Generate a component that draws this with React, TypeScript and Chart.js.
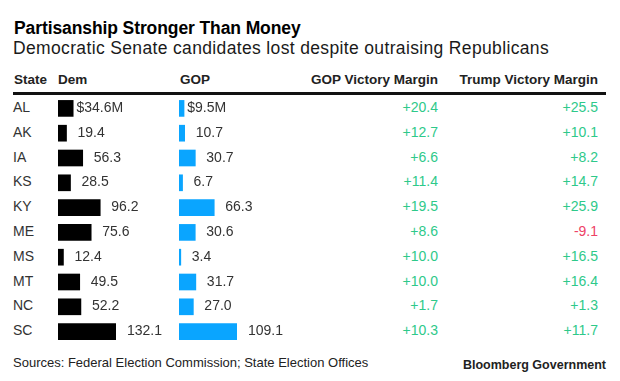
import React, { useEffect, useRef } from "react";
import { Chart, registerables } from "chart.js";

Chart.register(...registerables);

const states = ["AL", "AK", "IA", "KS", "KY", "ME", "MS", "MT", "NC", "SC"];
const demRaised = [34.6, 19.4, 56.3, 28.5, 96.2, 75.6, 12.4, 49.5, 52.2, 132.1];
const gopRaised = [9.5, 10.7, 30.7, 6.7, 66.3, 30.6, 3.4, 31.7, 27.0, 109.1];
const gopMargin = [20.4, 12.7, 6.6, 11.4, 19.5, 8.6, 10.0, 10.0, 1.7, 10.3];
const trumpMargin = [25.5, 10.1, 8.2, 14.7, 25.9, -9.1, 16.5, 16.4, 1.3, 11.7];

const FONT = '"Liberation Sans", Arial, Helvetica, sans-serif';
const TEXT = "#333333";
const GREEN = "#2ec98a";
const RED = "#ee4266";

const ROWS_TOP = 96;
const BAND = 24.8;
const ROWS_H = BAND * states.length;
const BAR_MAX_W = 58;
const CANVAS_W = 118;

const rowCenter = (i: number) => ROWS_TOP + BAND / 2 + BAND * i;
const fmtSigned = (v: number) => (v >= 0 ? "+" : "-") + Math.abs(v).toFixed(1);

function BarColumn({ values, color, left }: { values: number[]; color: string; left: number }) {
  const ref = useRef<HTMLCanvasElement>(null);
  useEffect(() => {
    if (!ref.current) return;
    const labelPlugin = {
      id: "valueLabels",
      afterDatasetsDraw(chart: any) {
        const ctx = chart.ctx as CanvasRenderingContext2D;
        const meta = chart.getDatasetMeta(0);
        ctx.save();
        ctx.font = `14px ${FONT}`;
        ctx.fillStyle = TEXT;
        ctx.textAlign = "left";
        ctx.textBaseline = "alphabetic";
        meta.data.forEach((bar: any, i: number) => {
          const num = values[i].toFixed(1);
          const x = bar.x + 11;
          const y = bar.y + 3.5;
          if (i === 0) {
            const dw = ctx.measureText("$").width;
            ctx.fillText("$" + num + "M", x - dw, y);
          } else {
            ctx.fillText(num, x, y);
          }
        });
        ctx.restore();
      },
    };
    const chart = new Chart(ref.current, {
      type: "bar",
      data: {
        labels: states,
        datasets: [
          {
            data: values,
            backgroundColor: color,
            borderWidth: 0,
            barThickness: 16,
          },
        ],
      },
      options: {
        indexAxis: "y",
        responsive: false,
        animation: false,
        events: [],
        layout: { padding: { left: 0, right: CANVAS_W - BAR_MAX_W, top: 0, bottom: 0 } },
        plugins: { legend: { display: false }, tooltip: { enabled: false } },
        scales: {
          x: { display: false, min: 0, max: Math.max(...values) },
          y: { display: false },
        },
      },
      plugins: [labelPlugin],
    } as any);
    return () => chart.destroy();
  }, [values, color]);
  return (
    <canvas
      ref={ref}
      width={CANVAS_W}
      height={ROWS_H}
      style={{ position: "absolute", left, top: ROWS_TOP, width: CANVAS_W, height: ROWS_H }}
    />
  );
}

const abs = (top: number, extra: React.CSSProperties = {}): React.CSSProperties => ({
  position: "absolute",
  top,
  whiteSpace: "nowrap",
  margin: 0,
  ...extra,
});

export default function App() {
  const rowTextTop = (i: number, size: number) => rowCenter(i) + 3.5 - 0.8465 * size;
  return (
    <div
      style={{
        position: "absolute",
        left: 0,
        top: 0,
        width: 620,
        height: 381,
        background: "#ffffff",
        fontFamily: FONT,
        overflow: "hidden",
      }}
    >
      <div style={abs(35 - 0.8465 * 17.5, { left: 14, fontSize: 17.5, lineHeight: "17.5px", fontWeight: 700, color: "#000", letterSpacing: -0.1 })}>
        Partisanship Stronger Than Money
      </div>
      <div style={abs(55 - 0.8465 * 17.5, { left: 13, fontSize: 17.5, lineHeight: "17.5px", color: "#1a1a1a", letterSpacing: 0.35 })}>
        Democratic Senate candidates lost despite outraising Republicans
      </div>

      {/* header */}
      <div style={abs(84 - 0.8465 * 13.5, { left: 14, fontSize: 13.5, lineHeight: "13.5px", fontWeight: 700, color: "#222" })}>State</div>
      <div style={abs(84 - 0.8465 * 13.5, { left: 58, fontSize: 13.5, lineHeight: "13.5px", fontWeight: 700, color: "#222" })}>Dem</div>
      <div style={abs(84 - 0.8465 * 13.5, { left: 180, fontSize: 13.5, lineHeight: "13.5px", fontWeight: 700, color: "#222" })}>GOP</div>
      <div style={abs(84 - 0.8465 * 13.5, { right: 620 - 438, fontSize: 13.5, lineHeight: "13.5px", fontWeight: 700, color: "#222" })}>
        GOP Victory Margin
      </div>
      <div style={abs(84 - 0.8465 * 13.5, { right: 620 - 598, fontSize: 13.5, lineHeight: "13.5px", fontWeight: 700, color: "#222" })}>
        Trump Victory Margin
      </div>
      <div style={{ position: "absolute", left: 13, top: 92, width: 593, height: 2.5, background: "#111" }} />

      {/* rows */}
      {states.map((s, i) => (
        <div key={"s" + s} style={abs(rowTextTop(i, 14), { left: 13, fontSize: 14, lineHeight: "14px", color: TEXT })}>
          {s}
        </div>
      ))}
      {gopMargin.map((v, i) => (
        <div
          key={"g" + i}
          style={abs(rowTextTop(i, 14), { right: 620 - 438, fontSize: 14, lineHeight: "14px", color: v >= 0 ? GREEN : RED })}
        >
          {fmtSigned(v)}
        </div>
      ))}
      {trumpMargin.map((v, i) => (
        <div
          key={"t" + i}
          style={abs(rowTextTop(i, 14), { right: 620 - 598, fontSize: 14, lineHeight: "14px", color: v >= 0 ? GREEN : RED })}
        >
          {fmtSigned(v)}
        </div>
      ))}

      <BarColumn values={demRaised} color="#000000" left={58} />
      <BarColumn values={gopRaised} color="#0aa5ff" left={179} />

      {/* footer */}
      <div style={abs(367 - 0.8465 * 13, { left: 13, fontSize: 13, lineHeight: "13px", color: "#222" })}>
        Sources: Federal Election Commission; State Election Offices
      </div>
      <div style={abs(370 - 0.8465 * 12.5, { right: 14, fontSize: 12.5, lineHeight: "12.5px", fontWeight: 700, color: "#222" })}>
        Bloomberg Government
      </div>
    </div>
  );
}
